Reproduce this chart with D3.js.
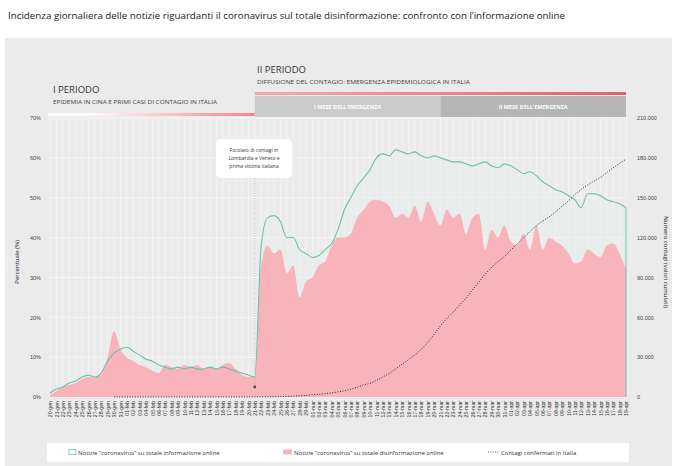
<!DOCTYPE html>
<html>
<head>
<meta charset="utf-8">
<script src="https://cdnjs.cloudflare.com/ajax/libs/d3/7.8.5/d3.min.js"></script>
<style>
  html, body { margin: 0; padding: 0; background: #fff; }
  svg { display: block; font-family: "Open Sans", sans-serif; }
</style>
</head>
<body>
<div id="chart"></div>
<script>
// giorni (etichette asse x)
var days = [
  "20-gen","21-gen","22-gen","23-gen","24-gen","25-gen","26-gen","27-gen","28-gen","29-gen","30-gen","31-gen",
  "01-feb","02-feb","03-feb","04-feb","05-feb","06-feb","07-feb","08-feb","09-feb","10-feb","11-feb","12-feb",
  "13-feb","14-feb","15-feb","16-feb","17-feb","18-feb","19-feb","20-feb","21-feb","22-feb","23-feb","24-feb",
  "25-feb","26-feb","27-feb","28-feb","29-feb",
  "01-mar","02-mar","03-mar","04-mar","05-mar","06-mar","07-mar","08-mar","09-mar","10-mar","11-mar","12-mar",
  "13-mar","14-mar","15-mar","16-mar","17-mar","18-mar","19-mar","20-mar","21-mar","22-mar","23-mar","24-mar",
  "25-mar","26-mar","27-mar","28-mar","29-mar","30-mar","31-mar",
  "01-apr","02-apr","03-apr","04-apr","05-apr","06-apr","07-apr","08-apr","09-apr","10-apr","11-apr","12-apr",
  "13-apr","14-apr","15-apr","16-apr","17-apr","18-apr","19-apr"
];

// % notizie "coronavirus" su totale informazione online
var infoOnline = [
  1, 2, 2.5, 3.5, 4, 5, 5.5, 5, 6, 9, 11, 12,
  12.5, 11.5, 10.5, 9.5, 9, 8, 7.5, 7, 7.5, 7, 7.5, 7,
  7, 7.5, 7, 7.5, 7, 6.5, 6, 5.5, 5, 38, 45, 45.5,
  44, 40, 40, 37, 36,
  35, 35.5, 37, 38.5, 42, 47, 50, 53, 55, 57, 60, 61,
  60.5, 62, 61.5, 61, 61.5, 60.5, 60, 60.5, 60, 59.5, 59, 59,
  58.5, 58, 58.5, 59, 58, 57.5, 58.5,
  58, 57, 56, 56.5, 55.5, 54, 53, 52, 51.5, 50.5, 49.5, 47.5,
  51, 51, 50.5, 49.5, 49, 48.5, 47.5
];

// % notizie "coronavirus" su totale disinformazione online
var disinfo = [
  0.5, 1.5, 2.5, 3, 3.5, 4.5, 5, 5, 5.5, 10, 16.5, 12,
  10, 9, 8, 7.5, 6.5, 6, 8, 7.5, 7, 8, 7.5, 8,
  7, 7.5, 7, 8, 8.5, 7, 5.5, 5, 5, 33, 38, 36,
  37, 31, 33, 25, 29,
  30, 33, 34, 38, 40, 40, 41, 45, 47, 49, 49.5, 49,
  48, 45, 46, 45, 48, 44, 49, 46, 43, 47, 45, 46,
  41, 45, 46, 37, 42, 40, 43,
  39, 38, 41, 37, 43, 37, 40, 39, 38, 36, 33.5, 34,
  37, 36, 35, 38, 38.5, 36, 32
];

// contagi confermati in Italia (valori cumulati)
var contagi = [
  null, null, null, null, null, null, null, null, null, null, 2, 2,
  2, 2, 2, 2, 2, 3, 3, 3, 3, 3, 3, 3,
  3, 3, 3, 3, 3, 3, 3, 3, 20, 79, 152, 229,
  322, 400, 650, 888, 1128,
  1694, 2036, 2502, 3089, 3858, 4636, 5883, 7375, 9172, 10149, 12462, 15113,
  17660, 21157, 24747, 27980, 31506, 35713, 41035, 47021, 53578, 59138, 63927, 69176,
  74386, 80539, 86498, 92472, 97689, 101739, 105792,
  110574, 115242, 119827, 124632, 128948, 132547, 135586, 139422, 143626, 147577, 152271, 156363,
  159516, 162488, 165155, 168941, 172434, 175925, 178972
];

var pctTicks = [0, 10, 20, 30, 40, 50, 60, 70];
var casesTicks = [0, 30000, 60000, 90000, 120000, 150000, 180000, 210000];

var W = 676, H = 466;
var pL = 50, pR = 626, pT = 118, pB = 397;

var svg = d3.select("#chart").append("svg").attr("width", W).attr("height", H);

var defs = svg.append("defs");
var g1 = defs.append("linearGradient").attr("id", "gradI");
g1.append("stop").attr("offset", "0%").attr("stop-color", "#ffffff");
g1.append("stop").attr("offset", "18%").attr("stop-color", "#ffffff");
g1.append("stop").attr("offset", "100%").attr("stop-color", "#ef8790");
var g2 = defs.append("linearGradient").attr("id", "gradII");
g2.append("stop").attr("offset", "0%").attr("stop-color", "#f4a9b0");
g2.append("stop").attr("offset", "100%").attr("stop-color", "#e35f6b");

// titolo
svg.append("text").attr("x", 8).attr("y", 19)
  .attr("font-size", 9).attr("fill", "#1a1a1a")
  .attr("textLength", 557).attr("lengthAdjust", "spacingAndGlyphs")
  .text("Incidenza giornaliera delle notizie riguardanti il coronavirus sul totale disinformazione: confronto con l\u2019informazione online");

// pannello grigio
svg.append("rect").attr("x", 5).attr("y", 38).attr("width", 667).attr("height", 428).attr("fill", "#ebebeb");

var x = d3.scalePoint().domain(days).range([pL, pR]);
var yL = d3.scaleLinear().domain([0, 70]).range([pB, pT]);
var yR = d3.scaleLinear().domain([0, 210000]).range([pB, pT]);

// griglia
var grid = svg.append("g");
grid.selectAll("line.v").data(days).enter().append("line")
  .attr("x1", function (d) { return x(d); }).attr("x2", function (d) { return x(d); })
  .attr("y1", pT).attr("y2", pB)
  .attr("stroke", "#f7f7f7").attr("stroke-width", 0.7);
grid.selectAll("line.h").data(pctTicks).enter().append("line")
  .attr("x1", pL).attr("x2", pR)
  .attr("y1", function (d) { return yL(d); }).attr("y2", function (d) { return yL(d); })
  .attr("stroke", "#fafafa").attr("stroke-width", 0.8);

// area informazione online (riempimento tenue)
var idx = d3.range(days.length);
var areaInfo = d3.area().curve(d3.curveMonotoneX)
  .x(function (i) { return x(days[i]); })
  .y0(pB).y1(function (i) { return yL(infoOnline[i]); });
svg.append("path").datum(idx).attr("d", areaInfo)
  .attr("fill", "#e6f0ee").attr("fill-opacity", 0.5);

// area disinformazione
var areaDis = d3.area().curve(d3.curveMonotoneX)
  .x(function (i) { return x(days[i]); })
  .y0(pB).y1(function (i) { return yL(disinfo[i]); });
svg.append("path").datum(idx).attr("d", areaDis).attr("fill", "#f8b4ba");

// linea informazione online
var lineInfo = d3.line().curve(d3.curveMonotoneX)
  .x(function (i) { return x(days[i]); })
  .y(function (i) { return yL(infoOnline[i]); });
svg.append("path").datum(idx).attr("d", lineInfo)
  .attr("fill", "none").attr("stroke", "#6dbfa6").attr("stroke-width", 1.1);
var last = days.length - 1;
svg.append("line")
  .attr("x1", x(days[last])).attr("x2", x(days[last]))
  .attr("y1", yL(infoOnline[last])).attr("y2", pB)
  .attr("stroke", "#6dbfa6").attr("stroke-width", 1);

// contagi
var lineCases = d3.line()
  .defined(function (i) { return contagi[i] !== null; })
  .x(function (i) { return x(days[i]); })
  .y(function (i) { return yR(contagi[i]); });
svg.append("path").datum(idx).attr("d", lineCases)
  .attr("fill", "none").attr("stroke", "#2a2a2a").attr("stroke-width", 1)
  .attr("stroke-dasharray", "1,1.6");

// asse sinistro
var axL = svg.append("g").attr("transform", "translate(" + (pL - 6) + ",0)")
  .call(d3.axisLeft(yL).tickValues(pctTicks).tickSize(0).tickFormat(function (d) { return d + "%"; }));
axL.select(".domain").remove();
axL.selectAll("text").attr("font-size", 5.5).attr("fill", "#444").attr("dy", "0.32em");

// asse destro
var fmt = d3.formatLocale({ decimal: ",", thousands: ".", grouping: [3], currency: ["", "\u20ac"] }).format(",d");
var axR = svg.append("g").attr("transform", "translate(" + (pR + 8) + ",0)")
  .call(d3.axisRight(yR).tickValues(casesTicks).tickSize(0).tickFormat(fmt));
axR.select(".domain").remove();
axR.selectAll("text").attr("font-size", 5.5).attr("fill", "#444").attr("dy", "0.32em");

// asse x
var axX = svg.append("g").attr("transform", "translate(0," + (pB + 2) + ")")
  .call(d3.axisBottom(x).tickSize(0));
axX.select(".domain").remove();
axX.selectAll("text")
  .attr("font-size", 5.2).attr("fill", "#333")
  .attr("transform", "rotate(-90)")
  .attr("text-anchor", "end").attr("x", -2).attr("y", 0).attr("dy", "0.32em");

// titoli assi
svg.append("text").attr("transform", "translate(19,262) rotate(-90)")
  .attr("text-anchor", "middle").attr("font-size", 6).attr("fill", "#222")
  .text("Percentuale (%)");
svg.append("text").attr("transform", "translate(664,262) rotate(90)")
  .attr("text-anchor", "middle").attr("font-size", 6).attr("fill", "#222")
  .text("Numero contagi (valori cumulati)");

// intestazioni periodi
svg.append("text").attr("x", 53).attr("y", 93).attr("font-size", 9.5).attr("fill", "#333").text("I PERIODO");
svg.append("text").attr("x", 53).attr("y", 104).attr("font-size", 5.5).attr("fill", "#444")
  .attr("textLength", 164).attr("lengthAdjust", "spacingAndGlyphs")
  .text("EPIDEMIA IN CINA E PRIMI CASI DI CONTAGIO IN ITALIA");
svg.append("rect").attr("x", pL - 2).attr("y", 113).attr("width", x("21-feb") - pL + 2).attr("height", 3)
  .attr("fill", "url(#gradI)");

svg.append("text").attr("x", 257).attr("y", 73).attr("font-size", 9.5).attr("fill", "#333").text("II PERIODO");
svg.append("text").attr("x", 257).attr("y", 84).attr("font-size", 5.5).attr("fill", "#444")
  .attr("textLength", 213).attr("lengthAdjust", "spacingAndGlyphs")
  .text("DIFFUSIONE DEL CONTAGIO: EMERGENZA EPIDEMIOLOGICA IN ITALIA");
svg.append("rect").attr("x", x("21-feb")).attr("y", 92).attr("width", pR - x("21-feb")).attr("height", 3)
  .attr("fill", "url(#gradII)");

var months = [
  { from: "21-feb", to: "21-mar", label: "I MESE DELL\u2019EMERGENZA", color: "#cbcbcb" },
  { from: "21-mar", to: "19-apr", label: "II MESE DELL\u2019EMERGENZA", color: "#b6b6b6" }
];
months.forEach(function (m) {
  var x0 = x(m.from), x1 = x(m.to);
  svg.append("rect").attr("x", x0).attr("y", 96).attr("width", x1 - x0).attr("height", 21).attr("fill", m.color);
  svg.append("text").attr("x", (x0 + x1) / 2).attr("y", 109).attr("text-anchor", "middle")
    .attr("font-size", 5.5).attr("font-weight", "bold").attr("fill", "#fff").text(m.label);
});

// annotazione 21 febbraio
var ax = x("21-feb");
svg.append("line").attr("x1", ax).attr("x2", ax).attr("y1", 178).attr("y2", 387)
  .attr("stroke", "#888").attr("stroke-width", 0.5).attr("stroke-dasharray", "1,1.5");
svg.append("circle").attr("cx", ax).attr("cy", 387).attr("r", 1.4).attr("fill", "#444");
svg.append("rect").attr("x", 216).attr("y", 139).attr("width", 76).attr("height", 39).attr("rx", 5)
  .attr("fill", "#fff");
["Focolaio di contagi in", "Lombardia e Veneto e", "prima vittima italiana"].forEach(function (t, i) {
  svg.append("text").attr("x", 254).attr("y", 152 + i * 8).attr("text-anchor", "middle")
    .attr("font-size", 5).attr("fill", "#333").text(t);
});

// legenda
svg.append("rect").attr("x", 47).attr("y", 443).attr("width", 582).attr("height", 19).attr("fill", "#fff");
var lg = svg.append("g").attr("font-size", 6).attr("fill", "#333");
lg.append("rect").attr("x", 69).attr("y", 449.5).attr("width", 7).attr("height", 5)
  .attr("fill", "#fff").attr("stroke", "#6dbfa6").attr("stroke-width", 0.8);
lg.append("text").attr("x", 78).attr("y", 454.5).text("Notizie \u201ccoronavirus\u201d su totale informazione online");
lg.append("rect").attr("x", 283).attr("y", 449.5).attr("width", 9).attr("height", 5).attr("fill", "#f8b4ba");
lg.append("text").attr("x", 294).attr("y", 454.5).text("Notizie \u201ccoronavirus\u201d su totale disinformazione online");
lg.append("line").attr("x1", 488).attr("x2", 499).attr("y1", 452).attr("y2", 452)
  .attr("stroke", "#333").attr("stroke-width", 0.8).attr("stroke-dasharray", "1,1.3");
lg.append("text").attr("x", 501).attr("y", 454.5).text("Contagi confermati in Italia");
</script>
</body>
</html>
